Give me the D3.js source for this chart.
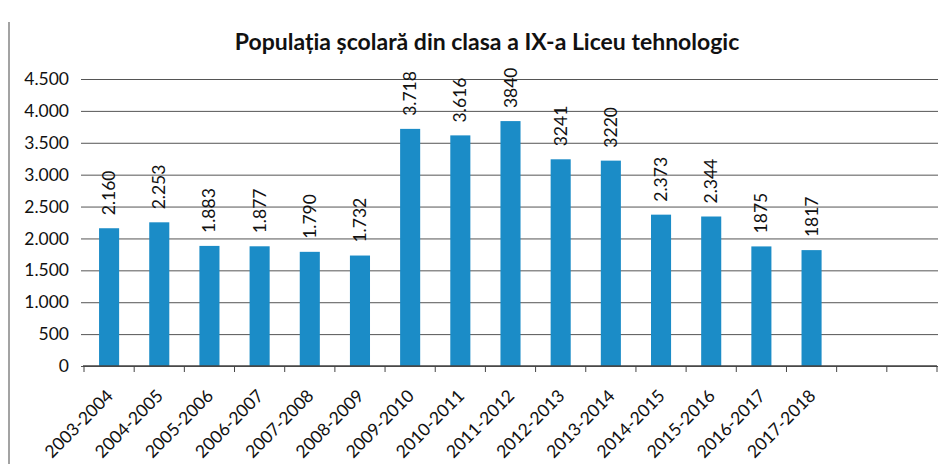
<!DOCTYPE html>
<html>
<head>
<meta charset="utf-8">
<script src="https://cdn.jsdelivr.net/npm/d3@7"></script>
<style>
    body { margin: 0; background: #fff; }
    text { font-family: Lato, "Open Sans", sans-serif; fill: #111; }
</style>
</head>
<body>
<div id="chart"></div>
<script>
// school years (two empty slots at the end, as in the original)
const years = ["2003-2004", "2004-2005", "2005-2006", "2006-2007", "2007-2008", "2008-2009",
    "2009-2010", "2010-2011", "2011-2012", "2012-2013", "2013-2014", "2014-2015",
    "2015-2016", "2016-2017", "2017-2018", "", " "];
const students = [2160, 2253, 1883, 1877, 1790, 1732, 3718, 3616, 3840, 3241, 3220, 2373, 2344, 1875, 1817];
// labels as written on the chart (mixed formatting)
const valueLabels = ["2.160", "2.253", "1.883", "1.877", "1.790", "1.732", "3.718", "3.616", "3840",
    "3241", "3220", "2.373", "2.344", "1875", "1817"];
const yTicks = [0, 500, 1000, 1500, 2000, 2500, 3000, 3500, 4000, 4500];

function renderChart() {
    const W = 945, H = 464;
    const margin = {top: 79, right: 8, bottom: 98, left: 84};
    const width = W - margin.left - margin.right,
        height = H - margin.top - margin.bottom;

    const root = d3.select("#chart").append("svg")
        .attr("width", W)
        .attr("height", H);

    // scanned page edge on the left
    root.append("line")
        .attr("x1", 9).attr("x2", 9)
        .attr("y1", 22).attr("y2", H)
        .attr("stroke", "#666")
        .attr("stroke-width", 1.2);

    root.append("text")
        .attr("x", 487)
        .attr("y", 50)
        .attr("text-anchor", "middle")
        .style("font-size", "23px")
        .style("font-weight", "bold")
        .text("Populația școlară din clasa a IX-a Liceu tehnologic");

    const svg = root.append("g")
        .attr("transform", "translate(" + margin.left + "," + margin.top + ")");

    const x = d3.scaleBand()
        .domain(years)
        .range([0, width])
        .paddingInner(0.6)
        .paddingOuter(0.3);

    const y = d3.scaleLinear()
        .domain([0, 4500])
        .range([height, 0]);

    // gridlines + y labels
    svg.append("g")
        .call(d3.axisLeft(y)
            .tickValues(yTicks)
            .tickSize(-width - 4)
            .tickPadding(12)
            .tickFormat(d => d3.format(",")(d).replace(/,/g, ".")))
        .attr("transform", "translate(-3,0)")
        .call(g => g.select(".domain").remove())
        .call(g => g.selectAll(".tick line").attr("stroke", "#555").attr("stroke-width", 1))
        .call(g => g.selectAll(".tick text").style("font-size", "17.5px").attr("fill", "#111"));

    // bars
    svg.append("g")
        .selectAll("rect")
        .data(students)
        .enter()
        .append("rect")
        .attr("x", (d, i) => x(years[i]))
        .attr("y", d => y(d))
        .attr("width", x.bandwidth())
        .attr("height", d => height - y(d))
        .attr("fill", "#1b8cc7");

    // value labels, rotated
    svg.append("g")
        .selectAll("text")
        .data(students)
        .enter()
        .append("text")
        .attr("transform", (d, i) => "translate(" + (x(years[i]) + x.bandwidth() / 2 + 6) + "," + (y(d) - 13) + ") rotate(-90)")
        .style("font-size", "17.5px")
        .text((d, i) => valueLabels[i]);

    // x axis with ticks at slot boundaries
    const step = width / years.length;
    const xAxis = svg.append("g")
        .attr("transform", "translate(0," + height + ")");
    xAxis.append("line")
        .attr("x1", -1).attr("x2", width)
        .attr("stroke", "#444").attr("stroke-width", 1.3);
    xAxis.selectAll(".xt")
        .data(d3.range(years.length + 1))
        .enter()
        .append("line")
        .attr("x1", i => i * step).attr("x2", i => i * step)
        .attr("y1", 0).attr("y2", 6)
        .attr("stroke", "#444");
    xAxis.selectAll(".xl")
        .data(years.slice(0, students.length))
        .enter()
        .append("text")
        .attr("transform", d => "translate(" + (x(d) + x.bandwidth() / 2 + 5) + ",31) rotate(-45)")
        .attr("text-anchor", "end")
        .style("font-size", "17.5px")
        .text(d => d);
}

renderChart();
</script>
</body>
</html>
